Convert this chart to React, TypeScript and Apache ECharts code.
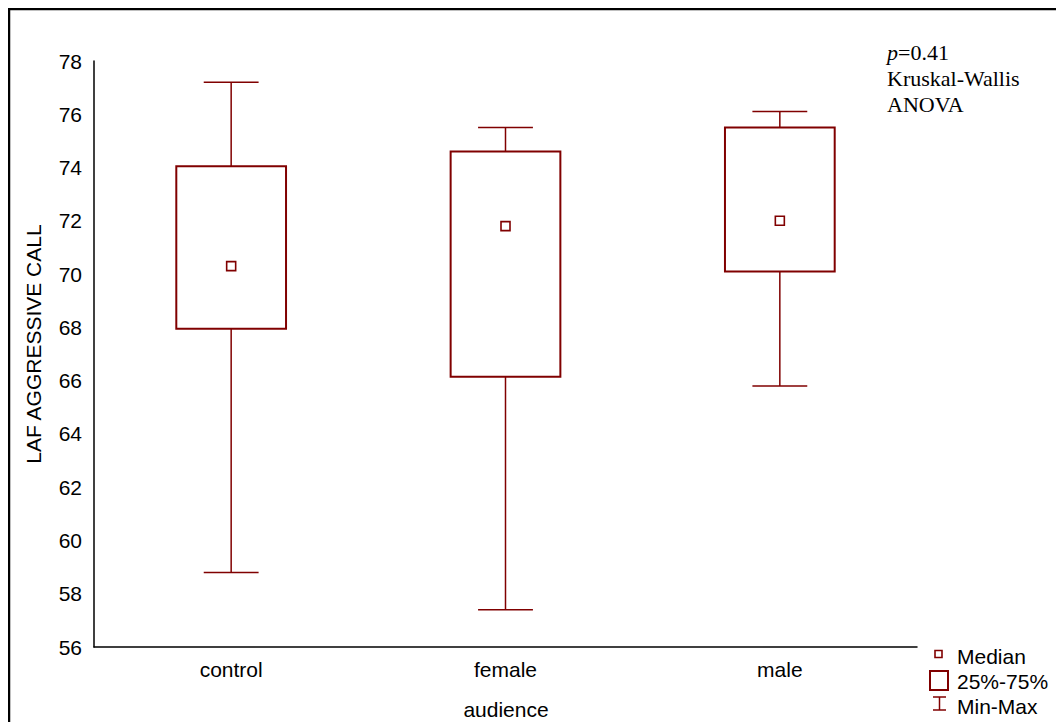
import React, { useEffect, useRef } from "react";
import * as echarts from "echarts";

// Group labels and box-plot statistics of LAF aggressive call by audience
const categories = ["control", "female", "male"];
const minValues = [58.8, 57.4, 65.8];
const q1Values = [67.95, 66.15, 70.1];
const medianValues = [70.3, 71.8, 72.0];
const q3Values = [74.05, 74.6, 75.5];
const maxValues = [77.2, 75.5, 76.1];
const yTicks = { min: 56, max: 78, interval: 2 };

const RED = "#800000";
const SANS = "'Liberation Sans', Arial, sans-serif";
const SERIF = "'Liberation Serif', 'Times New Roman', serif";

export default function App() {
  const ref = useRef<HTMLDivElement>(null);

  useEffect(() => {
    if (!ref.current) return;
    const chart = echarts.init(ref.current, undefined, { renderer: "svg" });

    const boxData = categories.map((_, i) => [
      i,
      minValues[i],
      q1Values[i],
      q3Values[i],
      maxValues[i],
    ]);
    const medianData = categories.map((_, i) => [i, medianValues[i]]);

    chart.setOption({
      animation: false,
      backgroundColor: "#fff",
      grid: { left: 86, top: 53, right: 147, bottom: 75 },
      xAxis: {
        type: "category",
        data: categories,
        axisLine: { lineStyle: { color: "#000", width: 1.5 } },
        axisTick: { inside: true, length: 4, alignWithLabel: true, lineStyle: { color: "#000" } },
        axisLabel: { color: "#000", fontSize: 21, fontFamily: SANS, margin: 12 },
        splitLine: { show: false },
      },
      yAxis: {
        type: "value",
        min: yTicks.min,
        max: yTicks.max,
        interval: yTicks.interval,
        axisLine: { show: true, lineStyle: { color: "#000", width: 1.5 } },
        axisTick: { show: false },
        axisLabel: { color: "#000", fontSize: 21, fontFamily: SANS, margin: 12 },
        splitLine: { show: false },
      },
      series: [
        {
          type: "custom",
          data: boxData,
          encode: { x: 0, y: [1, 2, 3, 4] },
          renderItem: (params: any, api: any) => {
            const x = api.value(0);
            const pMin = api.coord([x, api.value(1)]);
            const pQ1 = api.coord([x, api.value(2)]);
            const pQ3 = api.coord([x, api.value(3)]);
            const pMax = api.coord([x, api.value(4)]);
            const band = api.size([1, 0])[0];
            const boxW = band * 0.4;
            const capW = band * 0.2;
            const cx = pMin[0];
            const thin = { stroke: RED, lineWidth: 1.5, fill: "none" };
            return {
              type: "group",
              children: [
                { type: "line", shape: { x1: cx, y1: pMax[1], x2: cx, y2: pQ3[1] }, style: thin },
                { type: "line", shape: { x1: cx - capW / 2, y1: pMax[1], x2: cx + capW / 2, y2: pMax[1] }, style: thin },
                { type: "line", shape: { x1: cx, y1: pQ1[1], x2: cx, y2: pMin[1] }, style: thin },
                { type: "line", shape: { x1: cx - capW / 2, y1: pMin[1], x2: cx + capW / 2, y2: pMin[1] }, style: thin },
                {
                  type: "rect",
                  shape: { x: cx - boxW / 2, y: pQ3[1], width: boxW, height: pQ1[1] - pQ3[1] },
                  style: { stroke: RED, lineWidth: 2, fill: "#fff" },
                },
              ],
            };
          },
          z: 2,
        },
        {
          type: "scatter",
          data: medianData,
          symbol: "rect",
          symbolSize: 9,
          itemStyle: { color: "#fff", borderColor: RED, borderWidth: 1.6, opacity: 1 },
          z: 3,
        },
      ],
      graphic: [
        // outer frame
        {
          type: "rect",
          shape: { x: 1, y: 1, width: 1200, height: 900 },
          style: { stroke: "#000", lineWidth: 2.5, fill: "none" },
          silent: true,
        },
        // axis titles
        {
          type: "text",
          x: 25,
          y: 336,
          rotation: Math.PI / 2,
          style: {
            text: "LAF AGGRESSIVE CALL",
            fill: "#000",
            font: `21px ${SANS}`,
            align: "center",
            verticalAlign: "middle",
          },
        },
        {
          type: "text",
          x: 498,
          y: 701,
          style: {
            text: "audience",
            fill: "#000",
            font: `21px ${SANS}`,
            align: "center",
            verticalAlign: "middle",
          },
        },
        // test annotation
        {
          type: "text",
          x: 879,
          y: 44,
          style: {
            text: "{i|p}=0.41",
            fill: "#000",
            font: `22px ${SERIF}`,
            verticalAlign: "middle",
            rich: { i: { fontStyle: "italic", fontFamily: SERIF, fontSize: 22 } },
          },
        },
        {
          type: "text",
          x: 879,
          y: 70,
          style: { text: "Kruskal-Wallis", fill: "#000", font: `22px ${SERIF}`, verticalAlign: "middle" },
        },
        {
          type: "text",
          x: 879,
          y: 96,
          style: { text: "ANOVA", fill: "#000", font: `22px ${SERIF}`, verticalAlign: "middle" },
        },
        // legend
        {
          type: "rect",
          shape: { x: 927, y: 642.5, width: 7, height: 7 },
          style: { stroke: RED, lineWidth: 1.6, fill: "#fff" },
        },
        {
          type: "rect",
          shape: { x: 922, y: 663, width: 18, height: 19 },
          style: { stroke: RED, lineWidth: 2, fill: "#fff" },
        },
        {
          type: "line",
          shape: { x1: 931.5, y1: 689, x2: 931.5, y2: 702 },
          style: { stroke: RED, lineWidth: 1.5 },
        },
        {
          type: "line",
          shape: { x1: 925, y1: 689, x2: 938, y2: 689 },
          style: { stroke: RED, lineWidth: 1.5 },
        },
        {
          type: "line",
          shape: { x1: 925, y1: 702, x2: 938, y2: 702 },
          style: { stroke: RED, lineWidth: 1.5 },
        },
        {
          type: "text",
          x: 949,
          y: 648.5,
          style: { text: "Median", fill: "#000", font: `21px ${SANS}`, verticalAlign: "middle" },
        },
        {
          type: "text",
          x: 949,
          y: 673,
          style: { text: "25%-75%", fill: "#000", font: `21px ${SANS}`, verticalAlign: "middle" },
        },
        {
          type: "text",
          x: 949,
          y: 698.5,
          style: { text: "Min-Max", fill: "#000", font: `21px ${SANS}`, verticalAlign: "middle" },
        },
      ],
    });

    return () => chart.dispose();
  }, []);

  return <div ref={ref} style={{ width: 1056, height: 714 }} />;
}
